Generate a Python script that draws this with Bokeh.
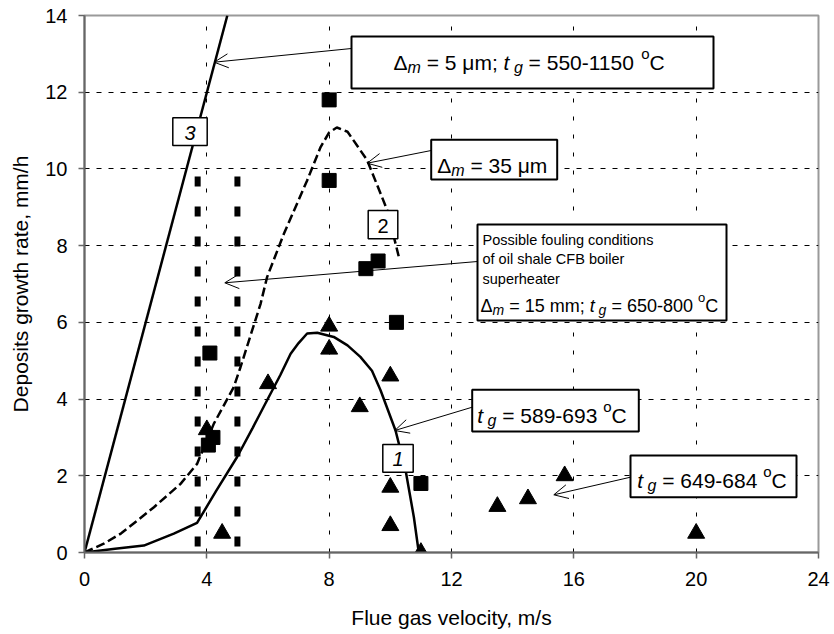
from bokeh.plotting import figure
from bokeh.models import Range1d, FixedTicker, Label, Arrow, OpenHead
from bokeh.embed import file_html
from bokeh.resources import INLINE

# ---------------- data ----------------
x_ticks = [0, 4, 8, 12, 16, 20, 24]
y_ticks = [0, 2, 4, 6, 8, 10, 12, 14]

# curve 3 (Δm = 5 µm)
curve3_x = [0.0, 4.67]
curve3_y = [0.0, 14.0]

# curve 2 (Δm = 35 µm), dashed
curve2_x = [0.0, 0.63, 1.2, 1.72, 2.27, 3.14, 3.68, 4.23, 4.88, 5.1, 5.76, 5.97,
            6.52, 7.28, 7.72, 8.0, 8.25, 8.6, 9.24, 9.68, 9.9, 10.28]
curve2_y = [0.0, 0.23, 0.5, 0.83, 1.18, 1.79, 2.31, 3.36, 4.31, 4.83, 6.49, 7.18,
            8.31, 9.70, 10.57, 10.95, 11.08, 10.97, 10.23, 9.36, 8.92, 7.70]

# curve 1 (tg = 589-693 °C), solid
curve1_x = [0.0, 1.0, 1.94, 2.92, 3.68, 4.3, 4.99, 5.5, 5.97, 6.4, 6.74, 7.0,
            7.28, 7.61, 8.15, 8.6, 9.02, 9.4, 9.68, 10.17, 10.5, 10.77, 10.93]
curve1_y = [0.0, 0.1, 0.18, 0.49, 0.77, 1.6, 2.49, 3.25, 3.97, 4.62, 5.18, 5.46,
            5.71, 5.73, 5.62, 5.40, 5.10, 4.74, 4.23, 3.18, 2.14, 0.92, 0.0]

# measured points
squares_x = [4.05, 4.1, 4.2, 8.0, 8.0, 9.2, 9.6, 10.2, 11.0]
squares_y = [2.8, 5.2, 3.0, 11.8, 9.7, 7.4, 7.6, 6.0, 1.8]
triangles_x = [4.0, 4.5, 6.0, 8.0, 8.0, 9.0, 10.0, 10.0, 10.0, 11.0, 13.5, 14.5, 15.7, 20.0]
triangles_y = [3.2, 0.5, 4.4, 5.9, 5.3, 3.8, 4.6, 1.7, 0.7, 0.0, 1.2, 1.4, 2.0, 0.5]

# possible fouling conditions (velocity range, top of marker lines)
fouling_v = [3.7, 5.0]
fouling_top = [9.8, 9.8]
fouling_bottom = [0.0, 0.0]

# ---------------- layout ----------------
W, H = 834, 634
FL, FR, FT, FB = 84, 818, 15, 552
XMAX, YMAX = 24.0, 14.0
FONT = "Liberation Sans"


def X(px):
    return (px - FL) / (FR - FL) * XMAX


def Y(py):
    return (FB - py) / (FB - FT) * YMAX


p = figure(width=W, height=H, x_range=Range1d(0, XMAX), y_range=Range1d(0, YMAX),
           output_backend="svg", toolbar_location=None,
           min_border_left=FL, min_border_right=W - FR,
           min_border_top=FT, min_border_bottom=H - FB)
p.background_fill_color = "white"
p.border_fill_color = "white"
p.outline_line_color = "#9a9a9a"
p.outline_line_width = 2

for ax, ticks in ((p.xaxis, x_ticks), (p.yaxis, y_ticks)):
    ax.ticker = FixedTicker(ticks=ticks)
    ax.axis_line_color = "#666666"
    ax.axis_line_width = 2
    ax.major_tick_line_color = "#666666"
    ax.major_tick_line_width = 1.5
    ax.major_tick_out = 6
    ax.major_tick_in = 0
    ax.minor_tick_line_color = None
    ax.major_label_text_font = FONT
    ax.major_label_text_font_size = "20px"
    ax.major_label_text_color = "black"
    ax.axis_label_text_font = FONT
    ax.axis_label_text_font_size = "21px"
    ax.axis_label_text_font_style = "normal"
    ax.axis_label_text_color = "black"

p.xaxis.axis_label = "Flue gas velocity, m/s"
p.yaxis.axis_label = "Deposits growth rate, mm/h"
p.xaxis.major_label_standoff = 13
p.yaxis.major_label_standoff = 11
p.xaxis.axis_label_standoff = 17
p.yaxis.axis_label_standoff = 10

p.xgrid.ticker = FixedTicker(ticks=x_ticks[1:-1])
p.ygrid.ticker = FixedTicker(ticks=y_ticks[1:-1])
p.xgrid.grid_line_color = "black"
p.xgrid.grid_line_width = 1
p.xgrid.grid_line_dash = "4 14"
p.ygrid.grid_line_color = "black"
p.ygrid.grid_line_width = 1
p.ygrid.grid_line_dash = "5 7"

# fouling condition markers (thick dotted verticals)
for v, t, b in zip(fouling_v, fouling_top, fouling_bottom):
    p.line([v, v], [t, b], line_color="black", line_width=6, line_dash="10 20", line_cap="butt")

p.line(curve3_x, curve3_y, line_color="black", line_width=2.5)
p.line(curve2_x, curve2_y, line_color="black", line_width=2.5, line_dash="9 4")
p.line(curve1_x, curve1_y, line_color="black", line_width=2.5)

p.scatter(squares_x, squares_y, marker="square", size=14, color="black")
p.scatter(triangles_x, triangles_y, marker="triangle", size=17, color="black")

# ---------------- annotations ----------------
boxes = [  # (left, right, top, bottom) in pixels, line width
    (351, 713, 36, 88, 2),
    (430.7, 556.7, 139.3, 179, 2),
    (477, 726, 224, 320, 2),
    (471.7, 638.3, 389.3, 431, 2),
    (630, 796, 455, 496.7, 2),
    (172.3, 206.7, 117.3, 145, 1.5),
    (367.7, 397.3, 210, 238.3, 1.5),
    (382.3, 412.7, 444, 471.7, 1.5),
]

arrows = [  # (x_start, y_start, x_end, y_end) in pixels
    (351, 48, 213.7, 61.7),
    (430.7, 150, 366.7, 162.7),
    (477, 261, 224.3, 282.3),
    (471.7, 406.7, 394.3, 430),
    (630, 476.7, 553.3, 494.3),
]
for x0, y0, x1, y1 in arrows:
    p.add_layout(Arrow(x_start=X(x0), y_start=Y(y0), x_end=X(x1), y_end=Y(y1),
                       line_color="black", line_width=1,
                       end=OpenHead(size=14, line_color="black", line_width=1)))

for l, r, t, b, lw in boxes:
    p.quad(left=[X(l)], right=[X(r)], top=[Y(t)], bottom=[Y(b)],
           fill_color="white", line_color="black", line_width=lw)

WID = {" ": 278, "=": 584, "-": 333, ";": 278, ",": 278, "/": 278,
       "C": 722, "F": 611, "B": 667, "P": 667, "Δ": 668, "μ": 577,
       "a": 556, "b": 556, "c": 500, "d": 556, "e": 556, "f": 278, "g": 556,
       "h": 556, "i": 222, "l": 222, "m": 833, "n": 556, "o": 556, "p": 556,
       "r": 333, "s": 500, "t": 278, "u": 556, "v": 500, "w": 722, "y": 500}


def tw(s, size):
    return sum(WID.get(c, 556) for c in s) * size / 1000.0


def runs(x0, base, parts):
    x = x0
    for txt, size, style, dy in parts:
        lead = len(txt) - len(txt.lstrip(" "))
        shown = txt.strip(" ")
        if shown:
            p.add_layout(Label(x=X(x + tw(txt[:lead], size)), y=Y(base + dy), text=shown,
                               text_font=FONT, text_font_size=f"{size}px",
                               text_font_style=style, text_color="black",
                               text_align="left", text_baseline="alphabetic"))
        x += tw(txt, size)


M, S, SUP = 21, 16, 15
runs(393, 62, [("Δ", M, "normal", 0), ("m", S, "italic", 5), (" = 5 μm; ", M, "normal", 0),
               ("t", M, "italic", 0), (" g", S, "italic", 5), (" = 550-1150 ", M, "normal", 0),
               ("o", SUP, "normal", -9), ("C", M, "normal", 0)])
runs(436.7, 165, [("Δ", M, "normal", 0), ("m", S, "italic", 5), (" = 35 μm", M, "normal", 0)])
for i, line in enumerate(["Possible fouling conditions", "of oil shale CFB boiler", "superheater"]):
    runs(482, 239 + 19.5 * i, [(line, 14.5, "normal", 0)])
runs(480, 305, [("Δ", 18, "normal", 0), ("m", 14, "italic", 4), (" = 15 mm; ", 18, "normal", 0),
                ("t", 18, "italic", 0), (" g", 14, "italic", 4), (" = 650-800 ", 18, "normal", 0),
                ("o", 13, "normal", -8), ("C", 18, "normal", 0)])
runs(476.7, 415, [("t", M, "italic", 0), (" g", S, "italic", 5), (" = 589-693 ", M, "normal", 0),
                  ("o", SUP, "normal", -9), ("C", M, "normal", 0)])
runs(636.7, 480, [("t", M, "italic", 0), (" g", S, "italic", 5), (" = 649-684 ", M, "normal", 0),
                  ("o", SUP, "normal", -9), ("C", M, "normal", 0)])

for txt, style, (l, r, t, b, _) in zip(["3", "2", "1"], ["italic", "normal", "italic"], boxes[5:]):
    p.add_layout(Label(x=X((l + r) / 2), y=Y((t + b) / 2 + 1), text=txt, text_font=FONT,
                       text_font_size="20px", text_font_style=style, text_color="black",
                       text_align="center", text_baseline="middle"))

open("out.html", "w").write(file_html(p, INLINE))
